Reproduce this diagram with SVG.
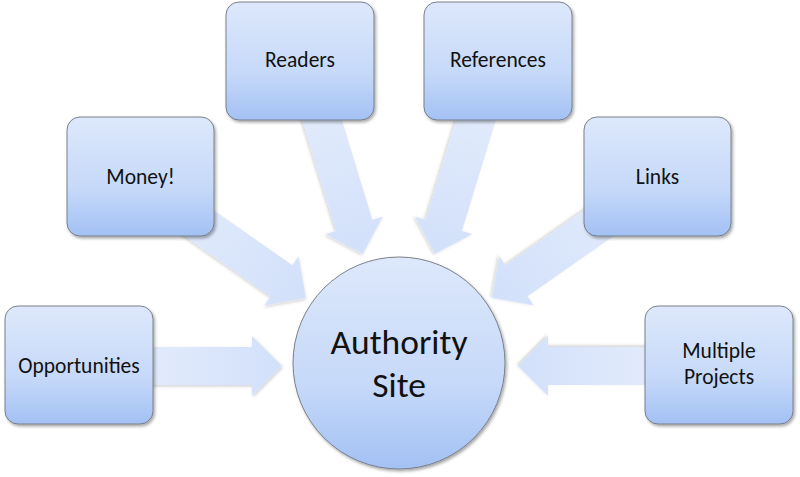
<svg xmlns="http://www.w3.org/2000/svg" width="800" height="477" viewBox="0 0 800 477">
<defs>
<linearGradient id="nodeGrad" x1="0" y1="0" x2="0" y2="1">
<stop offset="0" stop-color="#dde8fb"/>
<stop offset="0.6" stop-color="#c6d9f9"/>
<stop offset="1" stop-color="#a3c1f4"/>
</linearGradient>
<linearGradient id="arrowGrad" x1="0" y1="0" x2="1" y2="0">
<stop offset="0" stop-color="#e3ecfc"/>
<stop offset="1" stop-color="#d2e0fa"/>
</linearGradient>
<filter id="shadow" x="-10%" y="-10%" width="125%" height="125%">
<feDropShadow dx="1.5" dy="2" stdDeviation="1.5" flood-color="#000" flood-opacity="0.35"/>
</filter>
<filter id="ashadow" x="-10%" y="-20%" width="125%" height="150%">
<feDropShadow dx="1" dy="1.5" stdDeviation="1.5" flood-color="#000" flood-opacity="0.18"/>
</filter>
</defs>
<style>
.node{fill:url(#nodeGrad);stroke:#6f7680;stroke-width:0.9;filter:url(#shadow);}
.arrow{fill:url(#arrowGrad);stroke:none;filter:url(#ashadow);}
.lbl{font-family:Carlito,Calibri,Lato,"Liberation Sans",sans-serif;font-size:21.5px;fill:#111;text-anchor:middle;}
.big{font-size:35.5px;}
</style>
<rect width="800" height="477" fill="#ffffff"/>
<g id="connectors">
<path class="arrow" transform="translate(282,366)" d="M -142 -19 L -30 -19 L -30 -30 L 0 0 L -30 30 L -30 19 L -142 19 Z"/>
<path class="arrow" transform="translate(306,298) rotate(35)" d="M -180 -19 L -30 -19 L -30 -30 L 0 0 L -30 30 L -30 19 L -180 19 Z"/>
<path class="arrow" transform="translate(363,254) rotate(73)" d="M -170 -19 L -30 -19 L -30 -30 L 0 0 L -30 30 L -30 19 L -170 19 Z"/>
<path class="arrow" transform="translate(435,254) rotate(107)" d="M -170 -19 L -30 -19 L -30 -30 L 0 0 L -30 30 L -30 19 L -170 19 Z"/>
<path class="arrow" transform="translate(492,298) rotate(145)" d="M -180 -19 L -30 -19 L -30 -30 L 0 0 L -30 30 L -30 19 L -180 19 Z"/>
<path class="arrow" transform="translate(518,366) rotate(180)" d="M -142 -19 L -30 -19 L -30 -30 L 0 0 L -30 30 L -30 19 L -142 19 Z"/>
</g>
<g id="node-opportunities">
<rect class="node" x="5" y="306" width="148" height="118" rx="13"/>
<text class="lbl" x="79" y="373">Opportunities</text>
</g>
<g id="node-money">
<rect class="node" x="67" y="117" width="147" height="119" rx="13"/>
<text class="lbl" x="140.5" y="184">Money!</text>
</g>
<g id="node-readers">
<rect class="node" x="226" y="2" width="148" height="118" rx="13"/>
<text class="lbl" x="300" y="67">Readers</text>
</g>
<g id="node-references">
<rect class="node" x="424" y="2" width="148" height="118" rx="13"/>
<text class="lbl" x="498" y="67">References</text>
</g>
<g id="node-links">
<rect class="node" x="584" y="117" width="147" height="119" rx="13"/>
<text class="lbl" x="657.5" y="184">Links</text>
</g>
<g id="node-multiple-projects">
<rect class="node" x="645" y="306" width="148" height="118" rx="13"/>
<text class="lbl" x="719" y="358">Multiple</text>
<text class="lbl" x="719" y="384">Projects</text>
</g>
<g id="node-authority-site">
<circle class="node" cx="399" cy="363" r="106"/>
<text class="lbl big" x="399" y="354">Authority</text>
<text class="lbl big" x="399" y="397">Site</text>
</g>
</svg>
